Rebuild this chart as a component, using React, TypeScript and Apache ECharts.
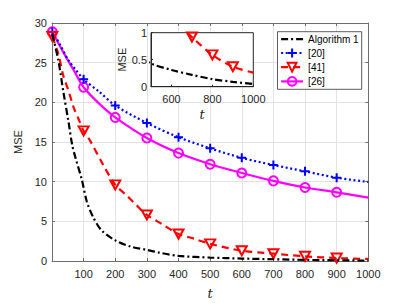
import React, { useEffect, useRef } from "react";
import * as echarts from "echarts";

// ---- data ----
const markerT = [1, 100, 200, 300, 400, 500, 600, 700, 800, 900];

const tAlg1 = [1, 20, 36, 52, 64, 75, 94, 110, 131, 157, 200, 250, 300, 340, 400, 500, 600, 700, 800, 900, 1000];
const alg1 = [28.6, 25.3, 21.3, 17.6, 14.6, 12.9, 10.3, 7.5, 5.45, 3.85, 2.6, 1.8, 1.4, 1.05, 0.65, 0.43, 0.31, 0.22, 0.14, 0.09, 0.05];

const tRef20 = [1, 25, 52, 75, 100, 150, 200, 300, 400, 500, 600, 700, 800, 900, 1000];
const ref20 = [28.9, 27.3, 25.3, 24.1, 22.9, 21.3, 19.6, 17.4, 15.6, 14.2, 13.0, 12.1, 11.3, 10.5, 9.96];

const tRef41 = [1, 20, 36, 52, 68, 83, 100, 120, 162, 200, 236, 267, 300, 350, 400, 450, 500, 600, 700, 800, 900, 1000];
const ref41 = [28.3, 26.1, 23.3, 21.5, 19.4, 18.0, 16.4, 15.2, 12.1, 9.6, 8.26, 7.04, 5.8, 4.6, 3.4, 2.8, 2.16, 1.3, 0.92, 0.59, 0.37, 0.26];

const tRef26 = [1, 36, 68, 100, 150, 200, 300, 400, 500, 600, 700, 800, 900, 1000];
const ref26 = [28.9, 26.3, 24.1, 21.9, 19.8, 18.1, 15.5, 13.6, 12.2, 11.1, 10.1, 9.27, 8.66, 7.98];

const xTicksMain = { min: 0, max: 1000, interval: 100 };
const yTicksMain = { min: 0, max: 30, interval: 5 };
const xTicksInset = [600, 800, 1000];
const yTicksInset = { min: 0, max: 1, interval: 0.5 };

const seriesNames = ["Algorithm 1", "[20]", "[41]", "[26]"];

// ---- styles ----
const FONT = "Liberation Sans";
const PLUS = "path://M5 0L5 10M0 5L10 5";
const TRI_DOWN = "path://M0 0L10 0L5 8.66Z";

function build(ts: number[], vs: number[], withMarkers: boolean, minT = -Infinity) {
  const out: any[] = [];
  for (let i = 0; i < ts.length; i++) {
    if (ts[i] < minT) continue;
    const isMarker = withMarkers && markerT.indexOf(ts[i]) >= 0;
    out.push(isMarker ? { value: [ts[i], vs[i]] } : { value: [ts[i], vs[i]], symbol: "none" });
  }
  return out;
}

export default function App() {
  const ref = useRef<HTMLDivElement>(null);
  useEffect(() => {
    if (!ref.current) return;
    const chart = echarts.init(ref.current, undefined, { renderer: "svg" });

    const axisColor = "#6e6e6e";
    const labelColor = "#262626";
    const gridLine = { show: true, lineStyle: { color: "#e3e3e3", width: 1 } };

    const lw = 2.2;
    const styles = {
      alg1: { color: "#000", type: [7, 3, 2, 3] as number[] },
      r20: { color: "#0000ff", type: [2, 2.6] as number[] },
      r41: { color: "#ff0000", type: [7, 5] as number[] },
      r26: { color: "#ff00ff", type: "solid" as any },
    };

    const mkSeries = (name: string, xIdx: number, yIdx: number, data: any[], st: any, symbol: string, symbolSize: any, z: number) => ({
      type: "line",
      name,
      xAxisIndex: xIdx,
      yAxisIndex: yIdx,
      data,
      smooth: 0.3,
      clip: true,
      z,
      symbol,
      symbolSize,
      showSymbol: true,
      showAllSymbol: true,
      lineStyle: { color: st.color, width: lw, type: st.type, cap: "butt" },
      itemStyle: symbol === "none"
        ? { color: "transparent", borderWidth: 0 }
        : { color: "transparent", borderColor: st.color, borderWidth: 2 },
      emphasis: { disabled: true },
    });

    const option: any = {
      animation: false,
      backgroundColor: "#fff",
      textStyle: { fontFamily: FONT },
      grid: [
        { left: 52, right: 38.7, top: 23, bottom: 37.3, show: false },
        { left: 151, right: 153.7, top: 32.7, bottom: 218.3, show: true, backgroundColor: "#fff", borderColor: "#262626", borderWidth: 1, z: 1 },
      ],
      xAxis: [
        {
          type: "value", gridIndex: 0, position: "bottom", ...xTicksMain,
          axisLine: { show: true, onZero: false, lineStyle: { color: axisColor, width: 1 } },
          axisTick: { show: true, inside: true, length: 3, lineStyle: { color: axisColor } },
          axisLabel: { color: labelColor, fontSize: 11, fontFamily: FONT, margin: 7, formatter: (v: number) => (v === 0 ? "" : String(v)) },
          splitLine: gridLine,
          name: "t", nameLocation: "middle", nameGap: 26,
          nameTextStyle: { fontFamily: "DejaVu Serif", fontStyle: "italic", fontSize: 13, color: labelColor },
        },
        {
          type: "value", gridIndex: 0, position: "top", ...xTicksMain,
          axisLine: { show: true, onZero: false, lineStyle: { color: axisColor, width: 1 } },
          axisTick: { show: true, inside: true, length: 3, lineStyle: { color: axisColor } },
          axisLabel: { show: false }, splitLine: { show: false },
        },
        {
          type: "value", gridIndex: 1, position: "bottom", min: 500, max: 1000, interval: 100, z: 2,
          axisLine: { show: true, onZero: false, lineStyle: { color: "#262626", width: 1 } },
          axisTick: { show: true, inside: true, length: 2, customValues: xTicksInset, lineStyle: { color: "#262626" } },
          axisLabel: { color: labelColor, fontSize: 11, fontFamily: FONT, margin: 7, customValues: xTicksInset,
            formatter: (v: number) => (xTicksInset.indexOf(v) >= 0 ? String(v) : "") },
          splitLine: { show: false },
          name: "t", nameLocation: "middle", nameGap: 21,
          nameTextStyle: { fontFamily: "DejaVu Serif", fontStyle: "italic", fontSize: 13, color: labelColor },
        },
      ],
      yAxis: [
        {
          type: "value", gridIndex: 0, position: "left", ...yTicksMain,
          axisLine: { show: true, onZero: false, lineStyle: { color: axisColor, width: 1 } },
          axisTick: { show: true, inside: true, length: 3, lineStyle: { color: axisColor } },
          axisLabel: { color: labelColor, fontSize: 11, fontFamily: FONT, margin: 5 },
          splitLine: gridLine,
          name: "MSE", nameLocation: "middle", nameGap: 17,
          nameTextStyle: { fontFamily: FONT, fontSize: 11, color: labelColor },
        },
        {
          type: "value", gridIndex: 0, position: "right", ...yTicksMain,
          axisLine: { show: true, onZero: false, lineStyle: { color: axisColor, width: 1 } },
          axisTick: { show: true, inside: true, length: 3, lineStyle: { color: axisColor } },
          axisLabel: { show: false }, splitLine: { show: false },
        },
        {
          type: "value", gridIndex: 1, position: "left", ...yTicksInset, z: 2,
          axisLine: { show: true, onZero: false, lineStyle: { color: "#262626", width: 1 } },
          axisTick: { show: true, inside: true, length: 2, lineStyle: { color: "#262626" } },
          axisLabel: { color: labelColor, fontSize: 11, fontFamily: FONT, margin: 4 },
          splitLine: { show: false },
          name: "MSE", nameLocation: "middle", nameGap: 23,
          nameTextStyle: { fontFamily: FONT, fontSize: 11, color: labelColor },
        },
      ],
      legend: {
        data: seriesNames,
        orient: "vertical",
        left: 277.5,
        top: 31.7,
        padding: [2.5, 3, 2.5, 2.5],
        itemWidth: 22,
        itemHeight: 11,
        itemGap: 3.4,
        backgroundColor: "#fff",
        borderColor: "#333",
        borderWidth: 0.8,
        borderRadius: 0,
        textStyle: { fontFamily: FONT, fontSize: 10, color: "#000" },
        lineStyle: { width: "inherit" },
        selectedMode: false,
        z: 10,
      },
      series: [
        mkSeries("Algorithm 1", 0, 0, build(tAlg1, alg1, false), styles.alg1, "none", 0, 5),
        mkSeries("[20]", 0, 0, build(tRef20, ref20, true), styles.r20, PLUS, 9, 3),
        mkSeries("[41]", 0, 0, build(tRef41, ref41, true), styles.r41, TRI_DOWN, [10, 9], 4),
        mkSeries("[26]", 0, 0, build(tRef26, ref26, true), styles.r26, "circle", 9, 2),
        mkSeries("Algorithm 1 inset", 2, 2, build(tAlg1, alg1, false, 400), styles.alg1, "none", 0, 6),
        mkSeries("[41] inset", 2, 2, build(tRef41, ref41, true, 400), styles.r41, TRI_DOWN, [10, 9], 6),
      ],
    };

    chart.setOption(option);
    return () => chart.dispose();
  }, []);

  return <div ref={ref} style={{ position: "fixed", left: 0, top: 0, width: 407, height: 305 }} />;
}
